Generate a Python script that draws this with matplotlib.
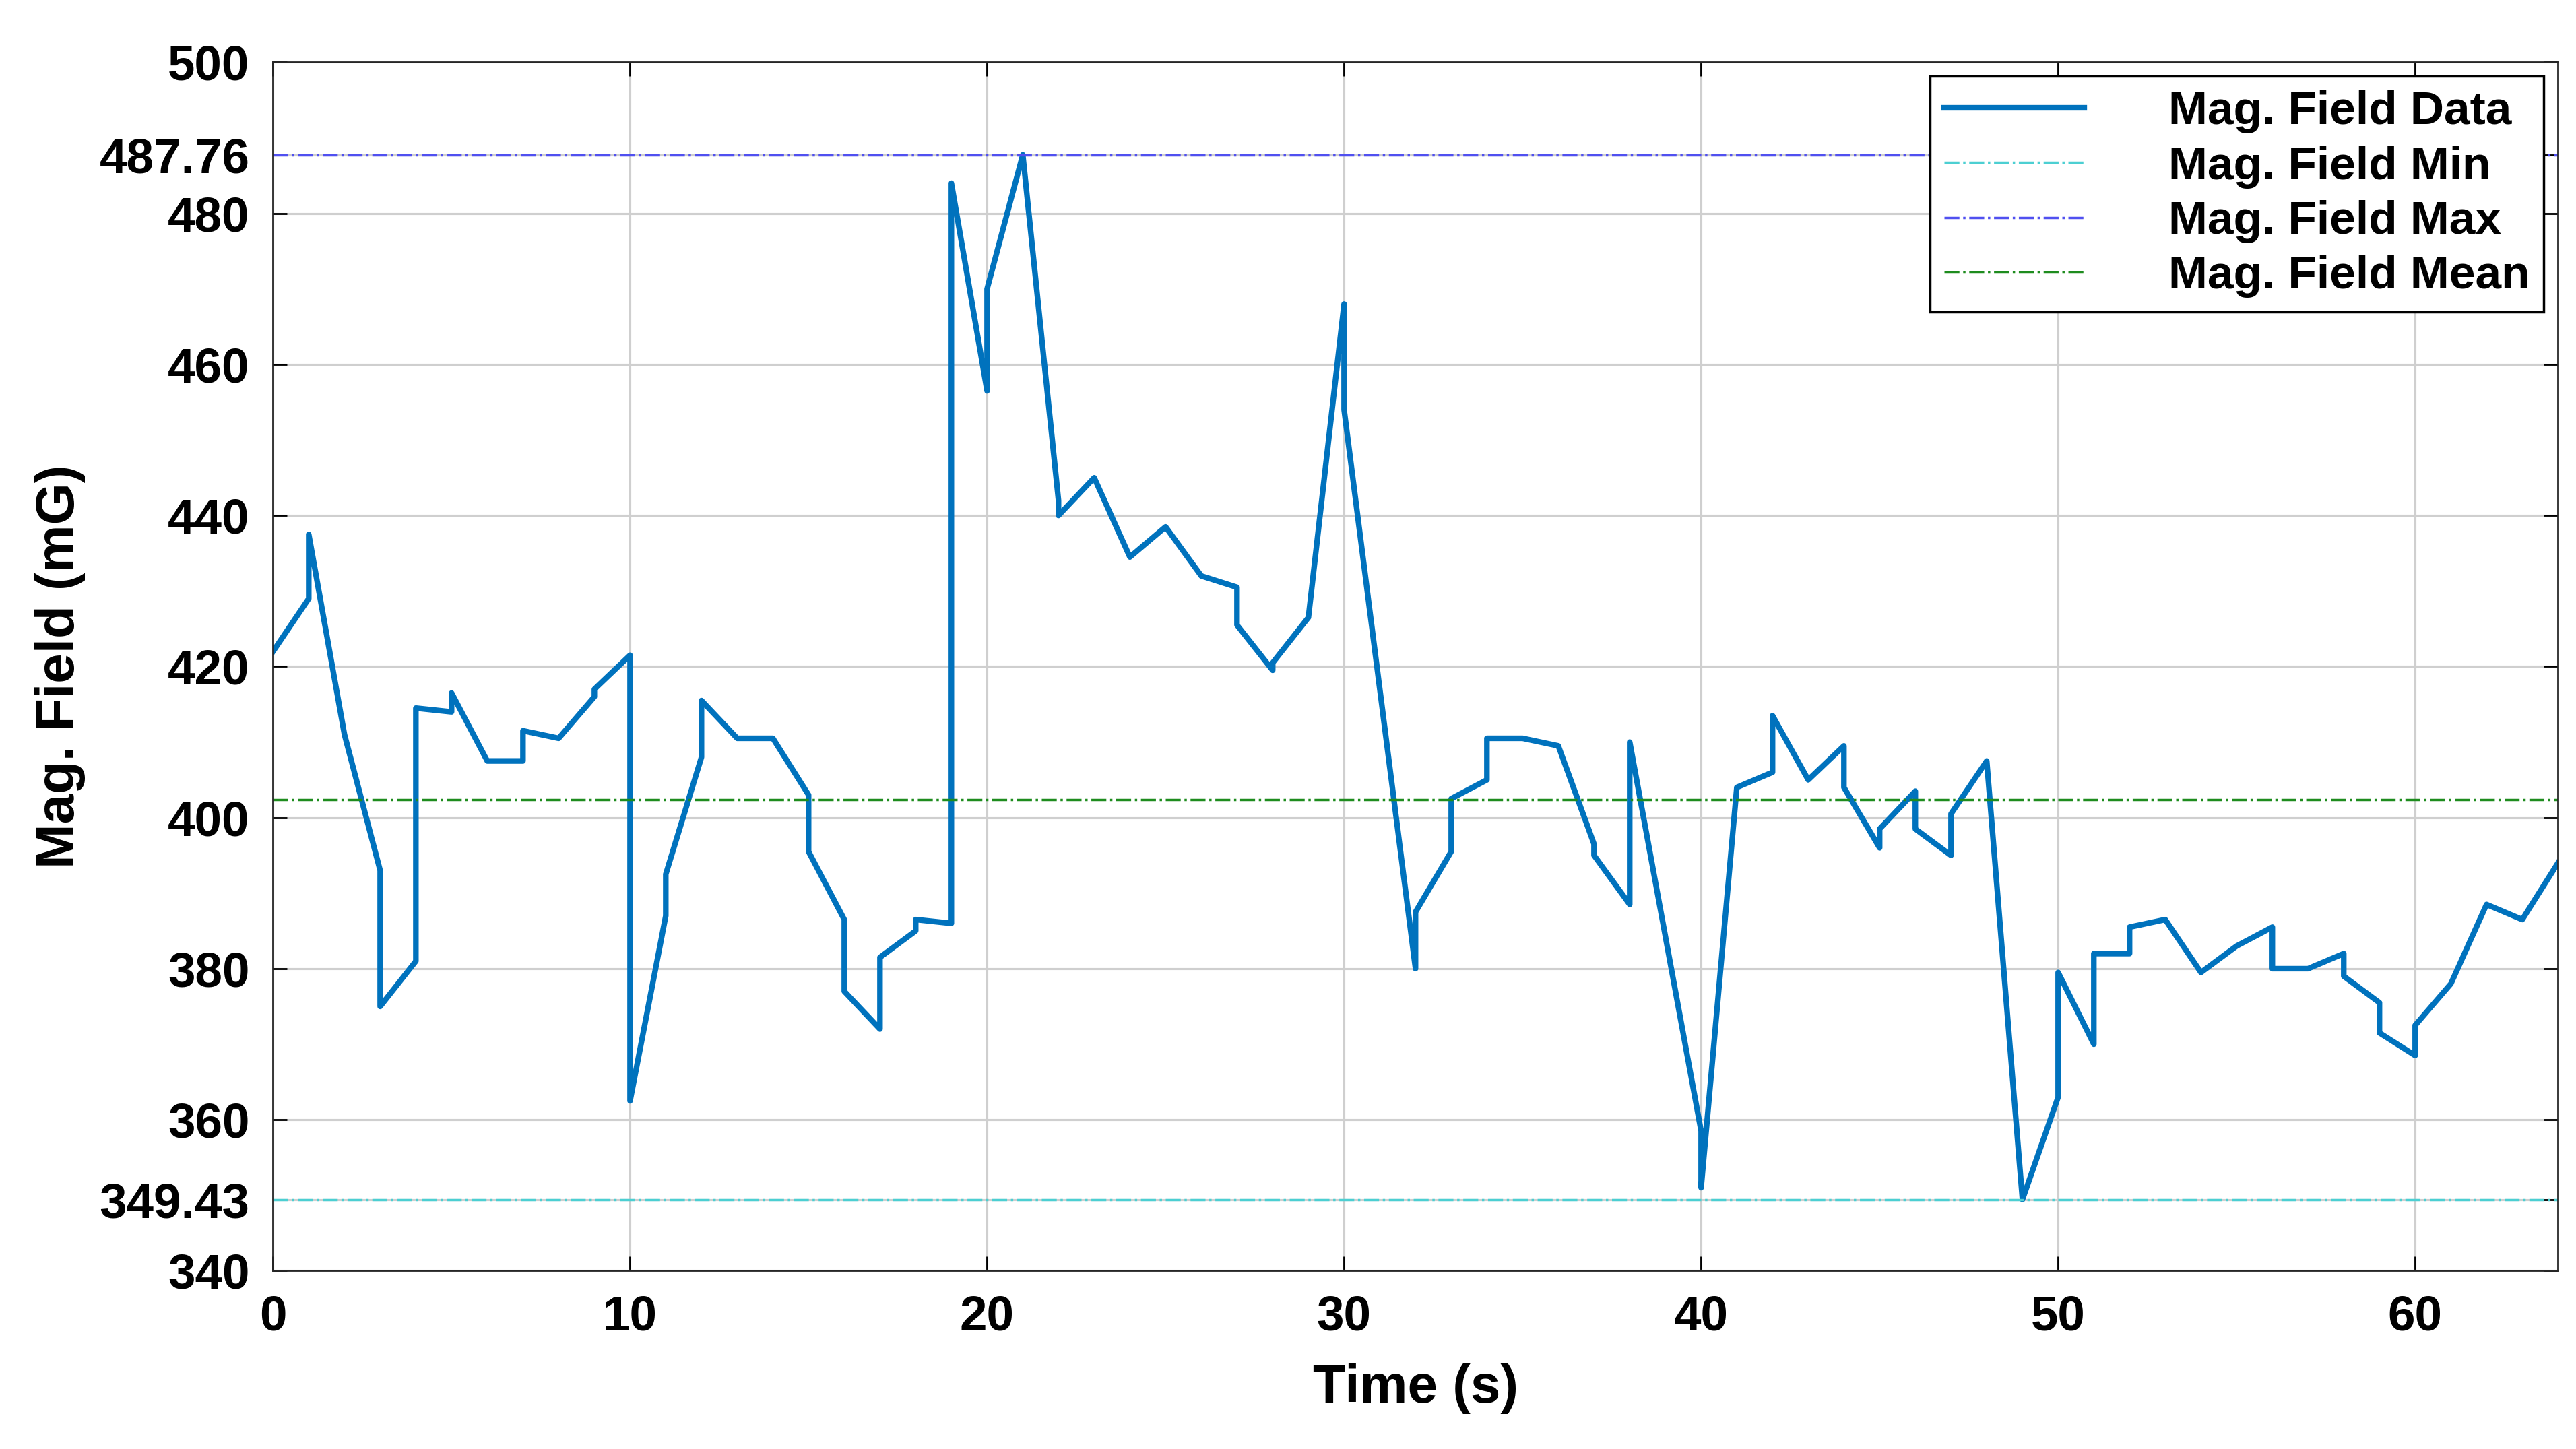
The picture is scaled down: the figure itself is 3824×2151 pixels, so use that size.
import matplotlib
matplotlib.use('Agg')
from matplotlib import pyplot as plt

# time (s) and field (mG)
time_s = [0, 1, 1, 2, 3, 3, 4, 4, 5, 5, 6, 7, 7, 8, 9, 9, 10, 10, 11, 11,
          12, 12, 13, 14, 15, 15, 16, 16, 17, 17, 18, 18, 19, 19, 20, 20, 21, 22, 22, 23,
          24, 25, 26, 27, 27, 28, 28, 29, 30, 30, 32, 32, 33, 33, 34, 34, 35, 36, 37, 37,
          38, 38, 40, 40, 41, 42, 42, 43, 44, 44, 45, 45, 46, 46, 47, 47, 48, 49, 50, 50,
          51, 51, 52, 52, 53, 54, 55, 56, 56, 57, 58, 58, 59, 59, 60, 60, 61, 62, 63, 64]
field_mg = [422, 429, 437.5, 411, 393, 375, 381, 414.5, 414, 416.5, 407.5, 407.5, 411.5, 410.5, 416, 417, 421.5, 362.5, 387, 392.5,
            408, 415.5, 410.5, 410.5, 403, 395.5, 386.5, 377, 372, 381.5, 385, 386.5, 386, 484, 456.5, 470, 487.76, 442, 440, 445,
            434.5, 438.5, 432, 430.5, 425.5, 419.5, 420.5, 426.5, 468, 454, 380, 387.5, 395.5, 402.5, 405, 410.5, 410.5, 409.5, 396.5, 395,
            388.5, 410, 358.5, 351, 404, 406, 413.5, 405, 409.5, 404, 396, 398.5, 403.5, 398.5, 395, 400.5, 407.5, 349.43, 363, 379.5,
            370, 382, 382, 385.5, 386.5, 379.5, 383, 385.5, 380, 380, 382, 379, 375.5, 371.5, 368.5, 372.5, 378, 388.5, 386.5, 394]

field_min = 349.43
field_max = 487.76
field_mean = 402.4

yticks = [340, 349.43, 360, 380, 400, 420, 440, 460, 480, 487.76, 500]
ytick_labels = ['340', '349.43', '360', '380', '400', '420', '440', '460', '480', '487.76', '500']

plt.rcParams['font.family'] = ['Liberation Sans', 'DejaVu Sans']
plt.rcParams['font.weight'] = 'bold'

fig = plt.figure(figsize=(15.296, 8.604), dpi=250)
ax = fig.add_axes([0.106, 0.123, 0.887, 0.834])

ax.plot(time_s, field_mg, color='#0072BD', lw=2.4, label='Mag. Field Data')
ax.axhline(field_min, color='#4CCFD2', ls='-.', lw=1.0, label='Mag. Field Min')
ax.axhline(field_max, color='#5050F0', ls='-.', lw=1.0, label='Mag. Field Max')
ax.axhline(field_mean, color='#1E8C1E', ls='-.', lw=1.0, label='Mag. Field Mean')

ax.set_xlim(0, 64)
ax.set_ylim(340, 500)
ax.set_xticks([0, 10, 20, 30, 40, 50, 60])
ax.set_yticks(yticks)
ax.set_yticklabels(ytick_labels)
ax.grid(True, color='#cfcfcf', lw=0.9)
ax.tick_params(labelsize=21, direction='in', length=6, top=True, right=True, pad=10)
for s in ax.spines.values():
    s.set_color('#262626')

ax.set_xlabel('Time (s)', fontsize=23, fontweight='bold', labelpad=10)
ax.set_ylabel('Mag. Field (mG)', fontsize=23, fontweight='bold', labelpad=6)

leg = ax.legend(loc='upper right', fontsize=20, fancybox=False, framealpha=1,
                edgecolor='black', borderaxespad=0.3, handlelength=3.0, handletextpad=1.8,
                labelspacing=0.25, borderpad=0.3)
leg.get_frame().set_linewidth(1.0)

fig.savefig('out.png', dpi=250)
